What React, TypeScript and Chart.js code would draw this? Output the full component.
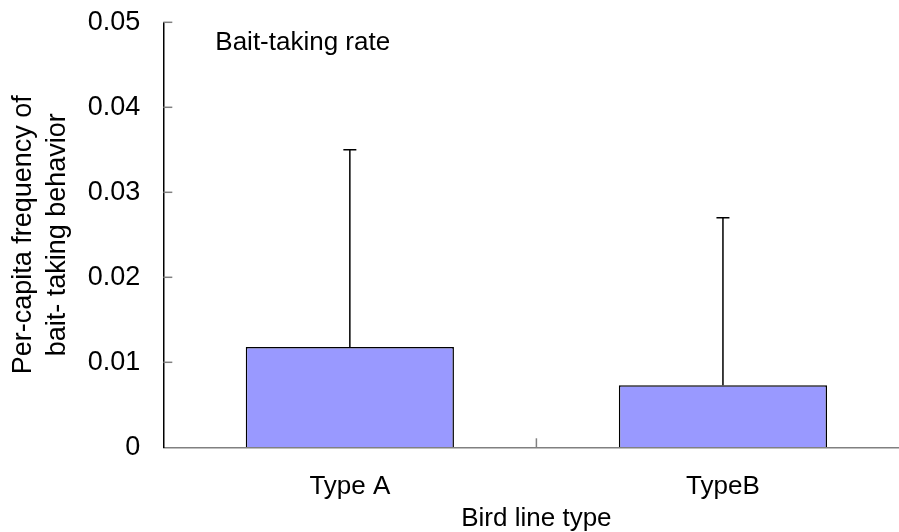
import { useEffect, useRef } from "react";
import { Chart, registerables } from "chart.js";

Chart.register(...registerables);

const categories = ["Type A", "TypeB"];
const means = [0.0118, 0.0073];
const errors = [0.0232, 0.0197];
const yMin = 0;
const yMax = 0.05;
const yStep = 0.01;
const yTitle = ["Per-capita frequency of", "bait- taking behavior"];
const xTitle = "Bird line type";
const annotation = "Bait-taking rate";

const FONT = "'Liberation Sans', Arial, Helvetica, sans-serif";
const CANVAS_W = 930;
const CANVAS_H = 532;

const errorBarPlugin = {
  id: "errorBars",
  afterDatasetsDraw(chart: any) {
    const ctx = chart.ctx;
    const meta = chart.getDatasetMeta(0);
    const yScale = chart.scales.y;
    ctx.save();
    ctx.strokeStyle = "#000";
    ctx.lineWidth = 1.5;
    meta.data.forEach((bar: any, i: number) => {
      const x = bar.x;
      const yTop = yScale.getPixelForValue(means[i] + errors[i]);
      ctx.beginPath();
      ctx.moveTo(x, bar.y);
      ctx.lineTo(x, yTop);
      ctx.moveTo(x - 6.5, yTop);
      ctx.lineTo(x + 6.5, yTop);
      ctx.stroke();
    });
    ctx.restore();
  },
};

const innerTicksPlugin = {
  id: "innerTicks",
  afterDraw(chart: any) {
    const ctx = chart.ctx;
    const { left, bottom, top } = chart.chartArea;
    const yScale = chart.scales.y;
    const xScale = chart.scales.x;
    ctx.save();
    ctx.strokeStyle = "#808080";
    ctx.lineWidth = 1.5;
    yScale.ticks.forEach((t: any) => {
      const py = yScale.getPixelForValue(t.value);
      if (py > bottom - 1) return;
      ctx.beginPath();
      ctx.moveTo(left, py);
      ctx.lineTo(left + 9, py);
      ctx.stroke();
    });
    for (let i = 1; i < categories.length; i++) {
      const px = (xScale.getPixelForValue(i - 1) + xScale.getPixelForValue(i)) / 2;
      ctx.beginPath();
      ctx.moveTo(px, bottom);
      ctx.lineTo(px, bottom - 9);
      ctx.stroke();
    }
    ctx.fillStyle = "#000";
    ctx.font = `26px ${FONT}`;
    ctx.textAlign = "left";
    ctx.textBaseline = "alphabetic";
    ctx.fillText(annotation, left + 52, top + 28);
    ctx.restore();
  },
};

export default function App() {
  const ref = useRef<HTMLCanvasElement | null>(null);

  useEffect(() => {
    if (!ref.current) return;
    const chart = new Chart(ref.current, {
      type: "bar",
      data: {
        labels: categories,
        datasets: [
          {
            data: means,
            backgroundColor: "#9999FF",
            borderColor: "#000",
            borderWidth: 1.5,
            barPercentage: 0.558,
            categoryPercentage: 1,
          },
        ],
      },
      options: {
        animation: false,
        responsive: false,
        devicePixelRatio: 1,
        layout: {
          padding: { left: 0, right: CANVAS_W - 909.5, top: 22.3, bottom: 0 },
        },
        plugins: {
          legend: { display: false },
          tooltip: { enabled: false },
        },
        scales: {
          x: {
            grid: { display: false, drawTicks: false },
            border: { display: true, color: "#808080", width: 1.5 },
            ticks: {
              color: "#000",
              padding: 24,
              font: { family: FONT, size: 26 },
            },
            title: {
              display: true,
              text: xTitle,
              color: "#000",
              font: { family: FONT, size: 26, lineHeight: 1 },
              padding: { top: 0, bottom: 0 },
            },
            afterFit(scale: any) {
              scale.height = CANVAS_H - 447.3;
              scale.paddingLeft = 0;
              scale.paddingRight = 0;
            },
          },
          y: {
            min: yMin,
            max: yMax,
            grid: { display: false, drawTicks: false },
            border: { display: true, color: "#000", width: 1.5 },
            ticks: {
              stepSize: yStep,
              color: "#000",
              padding: 23,
              font: { family: FONT, size: 27 },
              callback: (v: any) => (Number(v) === 0 ? "0" : Number(v).toFixed(2)),
            },
            title: {
              display: true,
              text: yTitle,
              color: "#000",
              font: { family: FONT, size: 27, lineHeight: 1.26 },
              padding: { top: 7, bottom: 0 },
            },
            afterFit(scale: any) {
              scale.width = 163.3;
              scale.paddingTop = 0;
              scale.paddingBottom = 0;
            },
          },
        },
      },
      plugins: [errorBarPlugin, innerTicksPlugin],
    });
    return () => chart.destroy();
  }, []);

  return (
    <div
      style={{
        position: "absolute",
        left: 0,
        top: 0,
        width: 899,
        height: CANVAS_H,
        overflow: "hidden",
        background: "#fff",
      }}
    >
      <canvas ref={ref} width={CANVAS_W} height={CANVAS_H} style={{ display: "block" }} />
    </div>
  );
}
